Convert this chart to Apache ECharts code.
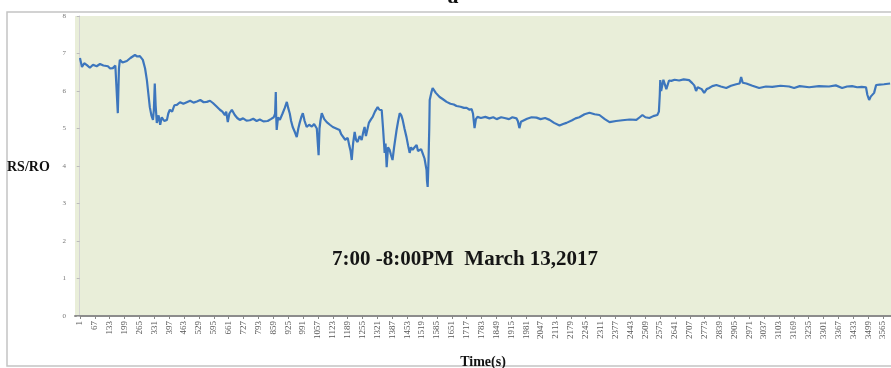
<!DOCTYPE html>
<html>
<head>
<meta charset="utf-8">
<script src="https://cdn.jsdelivr.net/npm/echarts@6/dist/echarts.min.js"></script>
<style>
  html, body { margin: 0; padding: 0; background: #ffffff; }
  #chart { width: 891px; height: 368px; }
</style>
</head>
<body>
<div id="chart"></div>
<script>
// Sensor ratio RS/RO over one hour (seconds since 7:00 PM)
const times = [
  1, 10, 20, 32, 45, 59, 75, 90, 105, 125,
  135, 147, 158, 165, 169, 174, 178, 190, 209, 225,
  245, 255, 267, 280, 290, 298, 305, 311, 318, 325,
  329, 333, 337, 342, 350, 357, 364, 375, 387, 393,
  400, 410, 420, 431, 445, 460, 475, 490, 505, 520,
  535, 550, 564, 578, 591, 605, 622, 633, 644, 650,
  657, 664, 675, 688, 699, 710, 725, 740, 755, 770,
  785, 799, 815, 834, 848, 861, 867, 870, 872, 874,
  880, 888, 900, 910, 919, 925, 932, 938, 945, 955,
  963, 970, 976, 983, 990, 998, 1007, 1018, 1030, 1040,
  1052, 1056, 1060, 1064, 1068, 1074, 1085, 1096, 1110, 1123,
  1138, 1153, 1160, 1167, 1178, 1189, 1196, 1202, 1207, 1213,
  1220, 1226, 1233, 1242, 1251, 1258, 1264, 1270, 1278, 1283,
  1287, 1293, 1300, 1310, 1322, 1330, 1340, 1346, 1353, 1357,
  1362, 1368, 1375, 1381, 1388, 1395, 1406, 1413, 1420, 1427,
  1433, 1441, 1450, 1457, 1464, 1470, 1477, 1486, 1495, 1501,
  1508, 1515, 1521, 1530, 1539, 1541, 1544, 1548, 1551, 1553,
  1560, 1566, 1580, 1597, 1612, 1628, 1645, 1660, 1672, 1690,
  1705, 1717, 1730, 1739, 1745, 1752, 1758, 1765, 1780, 1800,
  1818, 1835, 1850, 1870, 1885, 1905, 1920, 1938, 1944, 1951,
  1958, 1965, 1985, 2005, 2027, 2045, 2065, 2085, 2105, 2129,
  2145, 2160, 2185, 2200, 2217, 2240, 2262, 2285, 2306, 2330,
  2351, 2380, 2408, 2440, 2470, 2485, 2497, 2510, 2528, 2545,
  2563, 2570, 2572, 2574, 2576, 2580, 2585, 2590, 2598, 2603,
  2607, 2615, 2625, 2640, 2660, 2680, 2704, 2718, 2727, 2735,
  2742, 2749, 2760, 2771, 2782, 2793, 2807, 2825, 2845, 2869,
  2890, 2913, 2928, 2935, 2942, 2958, 2985, 3015, 3045, 3073,
  3110, 3148, 3170, 3195, 3237, 3280, 3325, 3355, 3383, 3405,
  3427, 3450, 3470, 3489, 3495, 3503, 3510, 3516, 3525, 3534,
  3550, 3569, 3596
];
const rsro = [
  6.88, 6.64, 6.74, 6.69, 6.62, 6.70, 6.66, 6.72, 6.68, 6.66,
  6.60, 6.61, 6.68, 6.65, 5.41, 6.60, 6.83, 6.76, 6.80, 6.88,
  6.96, 6.92, 6.93, 6.83, 6.60, 6.29, 5.90, 5.57, 5.35, 5.23,
  5.50, 6.20, 5.60, 5.15, 5.35, 5.10, 5.30, 5.20, 5.23, 5.40,
  5.50, 5.45, 5.62, 5.63, 5.70, 5.66, 5.70, 5.74, 5.69, 5.72,
  5.76, 5.70, 5.71, 5.74, 5.68, 5.60, 5.50, 5.45, 5.36, 5.45,
  5.17, 5.40, 5.50, 5.36, 5.28, 5.23, 5.27, 5.21, 5.22, 5.26,
  5.20, 5.24, 5.19, 5.20, 5.25, 5.30, 5.40, 5.97, 5.30, 4.96,
  5.30, 5.23, 5.40, 5.55, 5.71, 5.55, 5.40, 5.20, 5.04, 4.90,
  4.77, 5.00, 5.15, 5.30, 5.41, 5.20, 5.04, 5.10, 5.05, 5.12,
  5.00, 5.05, 4.29, 5.00, 5.20, 5.41, 5.25, 5.17, 5.10, 5.04,
  5.00, 4.96, 4.85, 4.88, 4.70, 4.75, 4.55, 4.40, 4.16, 4.60,
  4.91, 4.70, 4.64, 4.80, 4.69, 4.90, 5.04, 4.80, 4.85, 5.15,
  5.10, 5.25, 5.31, 5.45, 5.57, 5.50, 5.49, 5.00, 4.35, 4.60,
  3.97, 4.50, 4.43, 4.30, 4.16, 4.50, 4.96, 5.20, 5.41, 5.35,
  5.23, 5.00, 4.77, 4.55, 4.35, 4.50, 4.43, 4.50, 4.56, 4.40,
  4.37, 4.45, 4.35, 4.20, 3.89, 3.60, 3.44, 4.20, 5.00, 5.76,
  5.95, 6.08, 5.95, 5.84, 5.78, 5.71, 5.66, 5.64, 5.60, 5.58,
  5.55, 5.55, 5.50, 5.52, 5.40, 5.01, 5.25, 5.31, 5.28, 5.31,
  5.27, 5.30, 5.25, 5.30, 5.28, 5.25, 5.30, 5.27, 5.20, 5.01,
  5.18, 5.23, 5.26, 5.30, 5.29, 5.25, 5.28, 5.23, 5.15, 5.08,
  5.12, 5.15, 5.22, 5.27, 5.30, 5.38, 5.42, 5.38, 5.36, 5.25,
  5.17, 5.20, 5.22, 5.24, 5.23, 5.30, 5.36, 5.30, 5.28, 5.33,
  5.36, 5.45, 5.50, 5.90, 6.29, 6.00, 6.05, 6.30, 6.25, 6.05,
  6.10, 6.28, 6.27, 6.30, 6.28, 6.31, 6.29, 6.21, 6.15, 6.00,
  6.10, 6.15, 6.05, 5.95, 6.05, 6.08, 6.13, 6.16, 6.12, 6.08,
  6.14, 6.18, 6.20, 6.37, 6.22, 6.20, 6.14, 6.08, 6.12, 6.11,
  6.14, 6.12, 6.08, 6.13, 6.10, 6.13, 6.12, 6.15, 6.08, 6.12,
  6.13, 6.10, 6.11, 6.10, 5.90, 5.76, 5.85, 5.81, 5.95, 6.16,
  6.17, 6.18, 6.20
];
const tickLabels = [
  1, 67, 133, 199, 265, 331, 397, 463, 529, 595, 661, 727, 793, 859, 925, 991, 1057, 1123, 1189, 1255,
  1321, 1387, 1453, 1519, 1585, 1651, 1717, 1783, 1849, 1915, 1981, 2047, 2113, 2179, 2245, 2311, 2377, 2443,
  2509, 2575, 2641, 2707, 2773, 2839, 2905, 2971, 3037, 3103, 3169, 3235, 3301, 3367, 3433, 3499, 3565
];
const panelTitle = 'a';
const annotation = '7:00 -8:00PM  March 13,2017';

const serif = '"Liberation Serif", "Times New Roman", serif';
const chart = echarts.init(document.getElementById('chart'), null, { renderer: 'canvas' });

chart.setOption({
  backgroundColor: '#ffffff',
  animation: false,
  grid: {
    left: 75, right: 0, top: 16, bottom: 52,
    outerBoundsMode: 'none',
    show: true, backgroundColor: '#e9eed9', borderWidth: 0
  },
  xAxis: {
    type: 'value',
    min: -21, max: 3600,
    name: 'Time(s)',
    nameLocation: 'middle',
    nameGap: 39,
    nameTextStyle: { fontFamily: serif, fontWeight: 'bold', fontSize: 14, color: '#111' },
    axisLine: { show: true, lineStyle: { color: '#8c8c8c', width: 2 } },
    axisTick: { show: true, customValues: tickLabels, length: 3, lineStyle: { color: '#888' } },
    axisLabel: {
      customValues: tickLabels,
      rotate: 90,
      fontFamily: serif,
      fontSize: 9,
      color: '#555',
      margin: 5,
      formatter: (v) => String(v)
    },
    splitLine: { show: false }
  },
  yAxis: {
    type: 'value',
    min: 0, max: 8, interval: 1,
    axisLine: { show: true, lineStyle: { color: '#d4d4d4', width: 1 } },
    axisTick: { show: true, length: 3, lineStyle: { color: '#bbb' } },
    axisLabel: { fontFamily: serif, fontSize: 7, color: '#777', margin: 9 },
    splitLine: { show: false }
  },
  graphic: [
    {
      type: 'rect', z: -1, silent: true,
      shape: { x: 7, y: 12, width: 900, height: 354 },
      style: { fill: 'none', stroke: '#c4c4c4', lineWidth: 1.5 }
    },
    {
      type: 'text', left: 7, top: 160, silent: true,
      style: { text: 'RS/RO', font: 'bold 14px ' + serif, fill: '#111' }
    },
    {
      type: 'text', x: 453, y: -3, silent: true,
      style: { text: panelTitle, font: 'bold 22px ' + serif, fill: '#111', align: 'center', verticalAlign: 'middle' }
    },
    {
      type: 'text', x: 465, y: 260, z: 10, silent: true,
      style: { text: annotation, font: 'bold 21px ' + serif, fill: '#151515', align: 'center', verticalAlign: 'middle' }
    }
  ],
  series: [{
    type: 'line',
    data: times.map((t, i) => [t, rsro[i]]),
    showSymbol: false,
    lineStyle: { color: '#3d76bd', width: 2.2 },
    itemStyle: { color: '#3d76bd' }
  }]
});
</script>
</body>
</html>
